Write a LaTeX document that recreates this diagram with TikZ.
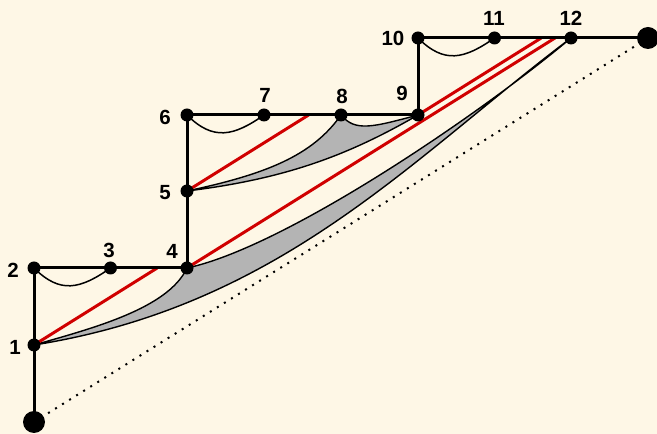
\documentclass[tikz,border=0pt]{standalone}
\usepackage{fontspec}
\setmainfont{Liberation Sans}
\definecolor{bgcream}{RGB}{254,247,230}
\definecolor{redline}{RGB}{208,0,0}
\definecolor{bandgray}{RGB}{180,180,180}
\begin{document}
\begin{tikzpicture}[x=1pt,y=1pt,
  dot/.style={circle,fill=black,inner sep=0pt,minimum size=13pt},
  bigdot/.style={circle,fill=black,inner sep=0pt,minimum size=22pt},
  stair/.style={line width=3pt,black},
  redln/.style={line width=3pt,redline},
  band/.style={fill=bandgray,draw=black,line width=1.4pt,line join=round},
  hang/.style={line width=1.5pt,black},
  dotline/.style={line width=2pt,black,dash pattern=on 2pt off 6.3pt},
  lbl/.style={font=\fontsize{20.5}{24}\selectfont\bfseries,inner sep=0pt}]
\fill[bgcream] (0,0) rectangle (657,434);
\useasboundingbox (0,0) rectangle (657,434);
% points
\coordinate (p0) at (34,12);
\coordinate (p1) at (34,89);
\coordinate (p2) at (34,166);
\coordinate (p3) at (110.5,166);
\coordinate (p4) at (187,166);
\coordinate (p5) at (187,243);
\coordinate (p6) at (187,319);
\coordinate (p7) at (264,319);
\coordinate (p8) at (341,319);
\coordinate (p9) at (418,319);
\coordinate (p10) at (418,396);
\coordinate (p11) at (494.5,396);
\coordinate (p12) at (571,396);
\coordinate (pR) at (648,396);
\coordinate (r1) at (157.2,166);
\coordinate (r2) at (555,396);
\coordinate (r3) at (308.6,319);
\coordinate (r4) at (541.2,396);
% dotted line
\draw[dotline] (p0) -- (pR);
% gray bands
\draw[band] (p1) to[out=16,in=245,out distance=60pt,in distance=45pt] (p4)
  to[out=12,in=220,out distance=100pt,in distance=120pt] (p12)
  to[out=217,in=9,out distance=200pt,in distance=250pt] (p1) -- cycle;
\draw[band] (p5) to[out=12,in=235,out distance=80pt,in distance=50pt] (p8)
  to[out=-50,in=-165,out distance=22pt,in distance=48pt] (p9)
  to[out=210,in=7,out distance=80pt,in distance=100pt] (p5) -- cycle;
% hanging arcs
\draw[hang] (p2) to[out=-45,in=-145,distance=37pt] (p3);
\draw[hang] (p6) to[out=-45,in=-145,distance=37pt] (p7);
\draw[hang] (p10) to[out=-45,in=-145,distance=37pt] (p11);
% red lines
\draw[redln] (p1) -- (r1);
\draw[redln] (p4) -- (r2);
\draw[redln] (p5) -- (r3);
\draw[redln] (p9) -- (r4);
% staircase
\draw[stair] (p0) -- (p1) -- (p2) -- (p3) -- (p4) -- (p5) -- (p6) -- (p7) -- (p8) -- (p9) -- (p10) -- (p11) -- (p12) -- (pR);
% dots
\node[bigdot] (b0) at (p0) {};
\node[bigdot] (bR) at (pR) {};
\node[dot] (n1) at (p1) {};
\node[dot] (n2) at (p2) {};
\node[dot] (n3) at (p3) {};
\node[dot] (n4) at (p4) {};
\node[dot] (n5) at (p5) {};
\node[dot] (n6) at (p6) {};
\node[dot] (n7) at (p7) {};
\node[dot] (n8) at (p8) {};
\node[dot] (n9) at (p9) {};
\node[dot] (n10) at (p10) {};
\node[dot] (n11) at (p11) {};
\node[dot] (n12) at (p12) {};
% labels
\node[lbl] (l1) at (15,87) {1};
\node[lbl] (l2) at (13,164) {2};
\node[lbl] (l3) at (109,184) {3};
\node[lbl] (l4) at (172,183) {4};
\node[lbl] (l5) at (165,241) {5};
\node[lbl] (l6) at (165,317) {6};
\node[lbl] (l7) at (265,339) {7};
\node[lbl] (l8) at (342,338) {8};
\node[lbl] (l9) at (402,341) {9};
\node[lbl] (l10) at (393,396) {10};
\node[lbl] (l11) at (494,416) {11};
\node[lbl] (l12) at (571,416) {12};
\end{tikzpicture}
\end{document}
